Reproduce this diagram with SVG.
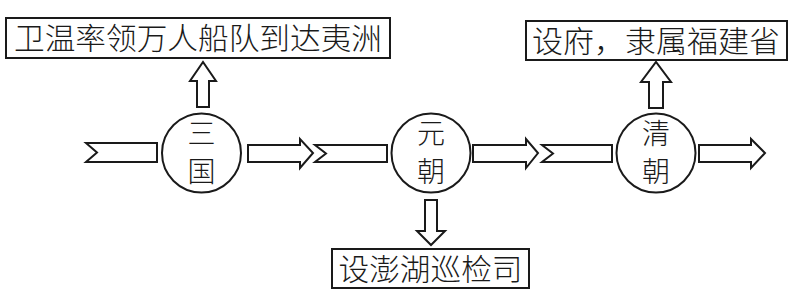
<svg xmlns="http://www.w3.org/2000/svg" width="793" height="293" viewBox="0 0 793 293">
<style>
.s{fill:#fff;stroke:#1a1a1a;stroke-width:2;stroke-linejoin:miter}
.t{font-family:"Noto Sans CJK SC","Noto Sans CJK TC",sans-serif;font-size:30px;font-weight:300;fill:#1a1a1a}
.c{font-family:"Noto Sans CJK SC","Noto Sans CJK TC",sans-serif;font-size:28px;font-weight:300;fill:#1a1a1a;text-anchor:middle}
</style>
<rect width="793" height="293" fill="#fff"/>
<g id="connectors">
<polygon class="s" points="86,143 157,143 157,162 86,162 97,152.5"/>
<polygon class="s" points="248,145 300,145 300,139 313,153 300,168 300,162 248,162"/>
<polygon class="s" points="315,145 387,145 387,162 315,162 326,153.5"/>
<polygon class="s" points="473,145 526,145 526,139 538,153 526,168 526,162 473,162"/>
<polygon class="s" points="542,145 612,145 612,162 542,162 553,153.5"/>
<polygon class="s" points="699,145 751,145 751,139 765,153 751,168 751,162 699,162"/>
<polygon class="s" points="197,107 209,107 209,81 216,81 203,62 190,81 197,81"/>
<polygon class="s" points="649,108 663,108 663,82 671,82 656,62 641,82 649,82"/>
<polygon class="s" points="425,200 437,200 437,231 445,231 431,245 417,231 425,231"/>
</g>
<g id="n1">
<rect class="s" x="6" y="18" width="384" height="40"/>
<text class="t" x="198" y="49" text-anchor="middle" textLength="368" lengthAdjust="spacingAndGlyphs">卫温率领万人船队到达夷洲</text>
</g>
<g id="n2">
<rect class="s" x="526" y="21" width="261" height="39"/>
<text class="t" x="656" y="52" text-anchor="middle" textLength="248" lengthAdjust="spacingAndGlyphs">设府，隶属福建省</text>
</g>
<g id="n3">
<rect class="s" x="332" y="249" width="197" height="39"/>
<text class="t" x="430.5" y="280" text-anchor="middle" textLength="184" lengthAdjust="spacingAndGlyphs">设澎湖巡检司</text>
</g>
<g id="c1">
<circle class="s" cx="201.5" cy="153" r="39.5"/>
<text class="c" x="201.5" y="144">三</text>
<text class="c" x="201.5" y="182">国</text>
</g>
<g id="c2">
<circle class="s" cx="431" cy="153" r="39.5"/>
<text class="c" x="431" y="144">元</text>
<text class="c" x="431" y="182">朝</text>
</g>
<g id="c3">
<circle class="s" cx="656" cy="153" r="39.5"/>
<text class="c" x="656" y="144">清</text>
<text class="c" x="656" y="182">朝</text>
</g>
</svg>
